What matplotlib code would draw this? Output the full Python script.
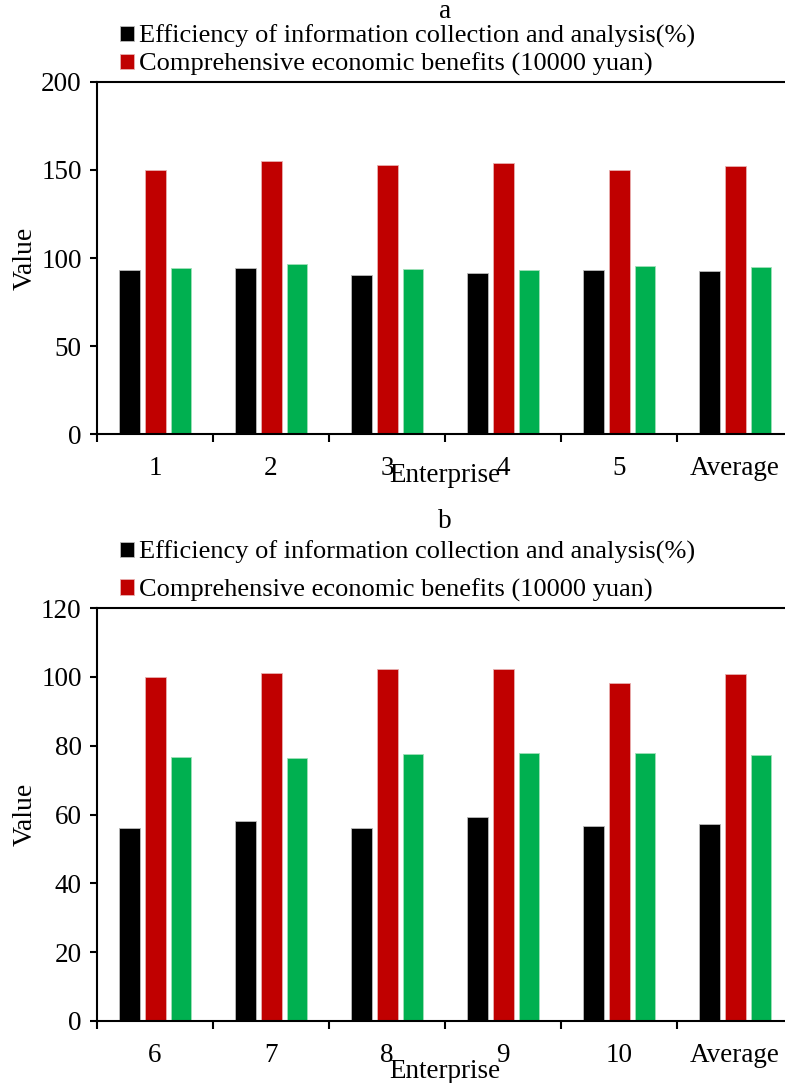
import matplotlib
matplotlib.use('Agg')
from matplotlib import pyplot as plt
import numpy as np

plt.rcParams['font.family'] = ['Liberation Serif', 'DejaVu Serif']
plt.rcParams['font.size'] = 19.5

# panel a data
labels_a = ['1', '2', '3', '4', '5', 'Average']
eff_a = [93.0, 94.3, 90.3, 91.3, 93.2, 92.4]
ben_a = [150.0, 154.9, 153.0, 154.0, 150.0, 152.5]
third_a = [94.5, 96.6, 93.6, 93.2, 95.5, 94.9]

# panel b data
labels_b = ['6', '7', '8', '9', '10', 'Average']
eff_b = [56.0, 58.1, 56.2, 59.3, 56.7, 57.2]
ben_b = [100.0, 101.1, 102.2, 102.2, 98.2, 100.8]
third_b = [76.6, 76.4, 77.6, 77.8, 77.9, 77.3]

name1 = 'Efficiency of information collection and analysis(%)'
name2 = 'Comprehensive economic benefits (10000 yuan)'

colors = ['#000000', '#C00000', '#00B050']

fig = plt.figure(figsize=(7.85, 10.83), dpi=100)
W, H = 785.0, 1083.0


def draw(ax, labels, s1, s2, s3, ymax, ystep, title, title_y, leg_y, leg_sp, xl_y, xpad):
    x = np.arange(len(labels))
    w = 0.176
    b1 = ax.bar(x - 0.22, s1, w, color=colors[0], edgecolor='#bbbbbb', linewidth=0.6)
    b2 = ax.bar(x + 0.005, s2, w, color=colors[1], edgecolor='#e8b0b0', linewidth=0.6)
    ax.bar(x + 0.225, s3, w, color=colors[2], edgecolor='#a0e0b8', linewidth=0.6)
    ax.set_xlim(-0.5, len(labels) - 0.5)
    ax.set_ylim(0, ymax)
    ax.set_yticks(np.arange(0, ymax + 1, ystep))
    ax.set_xticks(np.arange(-0.5, len(labels), 1.0))
    ax.set_xticklabels([])
    ax.set_xticks(x, minor=True)
    ax.set_xticklabels(labels, minor=True)
    ax.tick_params(axis='x', which='minor', length=0, pad=xpad, labelsize=19.5)
    ax.tick_params(axis='x', which='major', direction='out', length=6, width=1.5)
    ax.tick_params(axis='y', direction='out', length=5, width=1.5, pad=6, labelsize=19.5)
    ax.spines['right'].set_visible(False)
    for s in ['top', 'bottom', 'left']:
        ax.spines[s].set_linewidth(1.5)
    ax.set_ylabel('Value', fontsize=20)
    ax.yaxis.set_label_coords(-0.085, 0.5)
    ax.set_xlabel('Enterprise', fontsize=19.5)
    ax.xaxis.set_label_coords(0.5, xl_y)
    fig.text(445 / W, 1 - title_y / H, title, ha='center', va='center', fontsize=19.5)
    ax.legend([b1, b2], [name1, name2], loc='upper left',
              bbox_to_anchor=(120 / W, 1 - leg_y / H), bbox_transform=fig.transFigure,
              frameon=False, handlelength=0.53, handleheight=0.53, handletextpad=0.2,
              labelspacing=leg_sp, borderpad=0, borderaxespad=0, fontsize=19)


ax1 = fig.add_axes([97 / W, 1 - 434 / H, 696 / W, 352 / H])
ax2 = fig.add_axes([97 / W, 1 - 1021 / H, 696 / W, 413 / H])

draw(ax1, labels_a, eff_a, ben_a, third_a, 200, 50, 'a', 12, 25, 0.17, -0.082, 15.5)
draw(ax2, labels_b, eff_b, ben_b, third_b, 120, 20, 'b', 521, 541, 0.52, -0.091, 16)

fig.savefig('out.png', dpi=100)
